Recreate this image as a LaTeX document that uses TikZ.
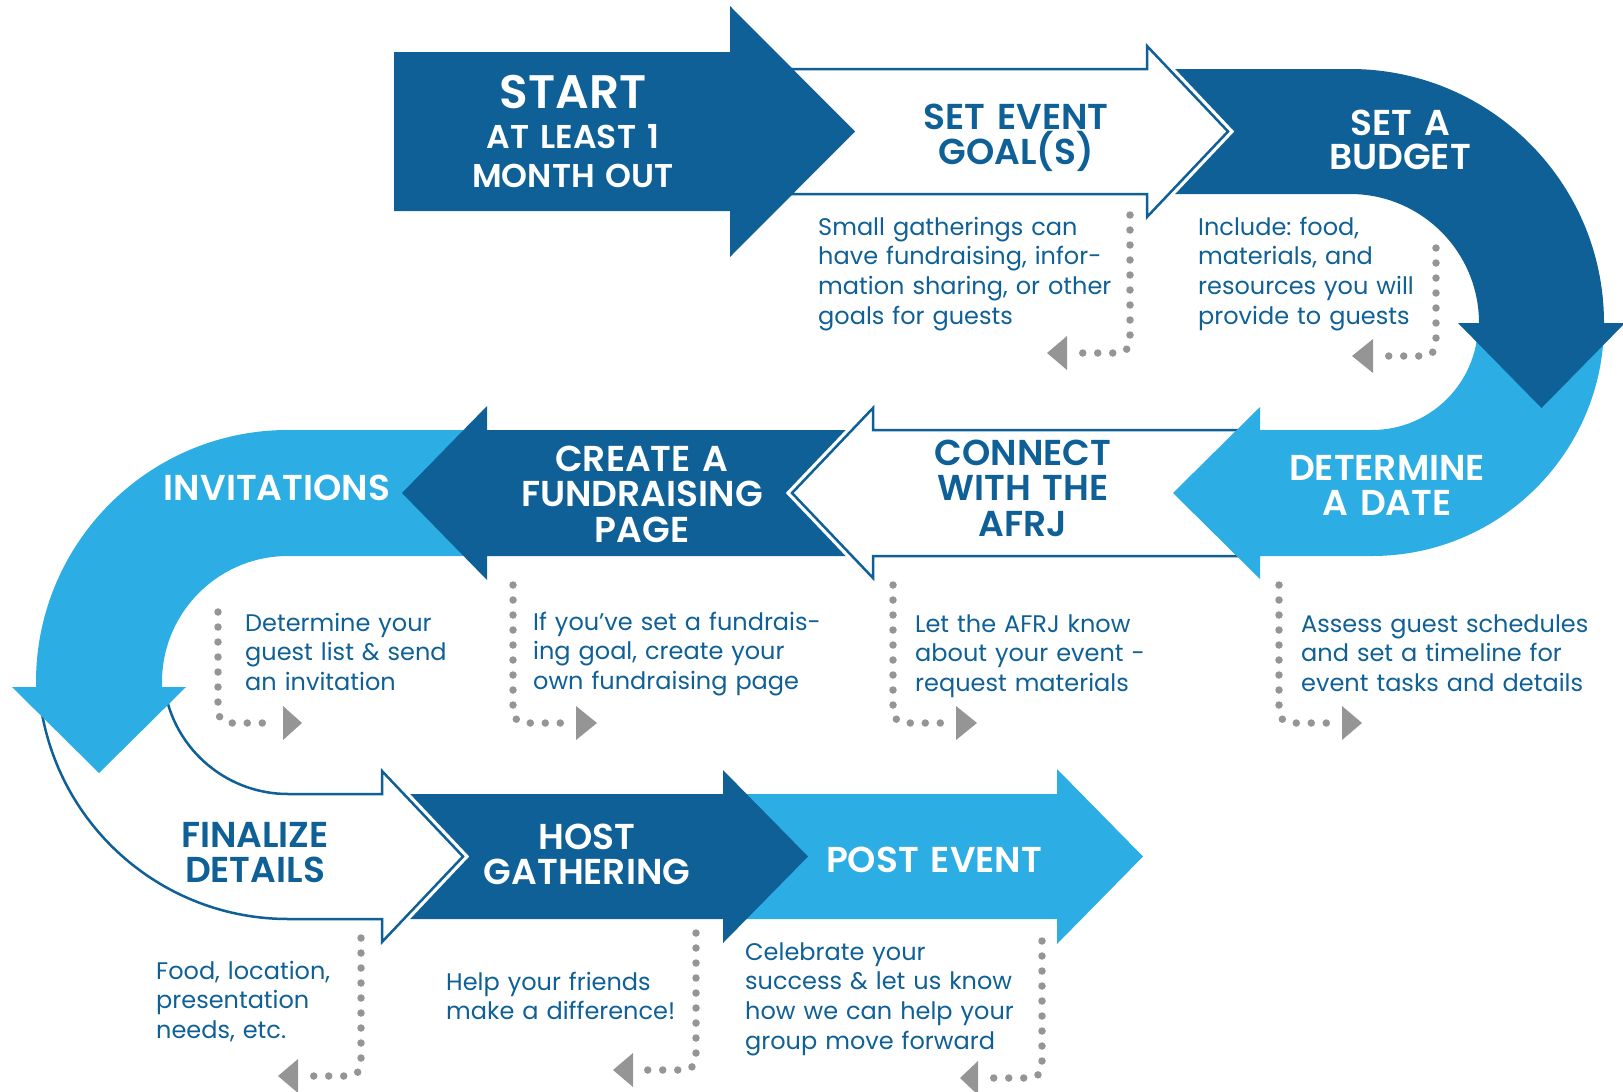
\documentclass[tikz,border=0pt]{standalone}
\usepackage{fontspec}
\setmainfont{Poppins}[BoldFont={Poppins SemiBold}]
\frenchspacing
\definecolor{dblue}{HTML}{0E6096}
\definecolor{lblue}{HTML}{2CADE4}
\definecolor{dotgray}{HTML}{959595}
\tikzset{
  head/.style={font=\bfseries\fontsize{36}{35.5}\selectfont, align=center, text width=400pt, anchor=base, inner sep=0pt},
  note/.style={font=\fontsize{24}{29.8}\selectfont, text=dblue, align=left, text width=400pt, anchor=base west, inner sep=0pt},
  dots/.style={draw=dotgray, line width=7.5pt, line cap=round, dash pattern=on 0pt off 15pt, rounded corners=12pt},
  tri/.style={fill=dotgray},
  outlined/.style={fill=white, draw=dblue, line width=2.5pt, preaction={draw=white, line width=9pt}},
}
\begin{document}
\begin{tikzpicture}[x=1pt,y=-1pt]
\useasboundingbox (0,0) rectangle (1623,1092);

% POST EVENT
\fill[lblue] (735,794) -- (1057,794) -- (1057,769) -- (1143,856.5) -- (1057,944) -- (1057,919) -- (735,919) -- cycle;
% HOST GATHERING
\fill[dblue] (404,794) -- (723,794) -- (723,770) -- (808,856.5) -- (723,943) -- (723,919) -- (404,919) -- (463,856.5) -- cycle;
% FINALIZE DETAILS
\path[outlined] ([shift={(288,669)}]172:250) arc[start angle=172,end angle=90,radius=250] -- (382,919) -- (382,942) -- (463,856.5) -- (382,771) -- (382,794) -- (288,794) arc[start angle=90,end angle=168,radius=125];
% INVITATIONS
\fill[lblue] (475,430) -- (288,430) arc[start angle=270,end angle=180,radius=252] -- (36,687) -- (12,687) -- (99,773) -- (186,687) -- (162,687) -- (162,682) arc[start angle=180,end angle=270,radius=126] -- (475,556) -- cycle;
% CREATE
\fill[dblue] (852,430) -- (487,430) -- (487,406) -- (402,493) -- (487,580) -- (487,556) -- (852,556) -- (792,493) -- cycle;
% CONNECT
\path[outlined] (1250,430) -- (873,430) -- (873,408) -- (792,493) -- (873,578) -- (873,556) -- (1250,556);
% DETERMINE
\fill[lblue] (1604,324) arc[start angle=0,end angle=90,radius=232] -- (1260,556) -- (1260,579) -- (1173,493) -- (1260,407) -- (1260,430) -- (1372,430) arc[start angle=90,end angle=0,radius=106] -- cycle;
% BUDGET
\fill[dblue] (1169,69) -- (1350,69) arc[start angle=270,end angle=360,radius=254] -- (1625,323) -- (1541.5,408) -- (1458,323) -- (1479,323) arc[start angle=0,end angle=-90,radius=129] -- (1169,194) -- (1228,131.5) -- cycle;
% SET EVENT
\path[outlined] (770,69) -- (1147,69) -- (1147,46) -- (1228,131.5) -- (1147,217) -- (1147,194) -- (770,194);
% START
\fill[dblue] (394,52) -- (730,52) -- (730,6) -- (855,131.5) -- (730,257) -- (730,211) -- (394,211) -- cycle;

% headings
\node[head, text=white, font=\bfseries\fontsize{47}{47}\selectfont] (start) at (573,108) {START};
\node[head, text=white, font=\bfseries\fontsize{33}{39}\selectfont] (startsub) at (573,148) {AT LEAST 1\\MONTH OUT};
\node[head, text=dblue] (goal) at (1016,129) {SET EVENT\\GOAL(S)};
\node[head, text=white, font=\bfseries\fontsize{36}{34}\selectfont] (budget) at (1400,135) {SET A\\BUDGET};
\node[head, text=white] (date) at (1387,480) {DETERMINE\\A DATE};
\node[head, text=dblue] (afrj) at (1023,465) {CONNECT\\WITH THE\\AFRJ};
\node[head, text=white] (page) at (642,471) {CREATE A\\FUNDRAISING\\PAGE};
\node[head, text=white] (invite) at (277,500) {INVITATIONS};
\node[head, text=dblue] (final) at (255,847) {FINALIZE\\DETAILS};
\node[head, text=white] (host) at (587,849) {HOST\\GATHERING};
\node[head, text=white] (post) at (934,872) {POST EVENT};

% notes
\node[note] (n1) at (818,235) {Small gatherings can\\have fundraising, infor-\\mation sharing, or other\\goals for guests};
\node[note] (n2) at (1198,235) {Include: food,\\materials, and\\resources you will\\provide to guests};
\node[note] (n3) at (1301,632) {Assess guest schedules\\and set a timeline for\\event tasks and details};
\node[note] (n4) at (915,632) {Let the AFRJ know\\about your event -\\request materials};
\node[note] (n5) at (533,630) {If you’ve set a fundrais-\\ing goal, create your\\own fundraising page};
\node[note] (n6) at (245,631) {Determine your\\guest list \& send\\an invitation};
\node[note] (n7) at (156,979) {Food, location,\\presentation\\needs, etc.};
\node[note] (n8) at (446,990) {Help your friends\\make a difference!};
\node[note] (n9) at (745,960) {Celebrate your\\success \& let us know\\how we can help your\\group move forward};

% dotted pointers
\coordinate (d1a) at (1130,215); \coordinate (d1b) at (1075,353);
\draw[dots] (d1a) |- (d1b);
\fill[tri] (1047,353) -- (1067,336) -- (1067,370) -- cycle;
\coordinate (d2a) at (1436,248); \coordinate (d2b) at (1380,356);
\draw[dots] (d2a) |- (d2b);
\fill[tri] (1352,356) -- (1373,339) -- (1373,373) -- cycle;
\coordinate (d3a) at (1279,585); \coordinate (d3b) at (1333,723);
\draw[dots] (d3a) |- (d3b);
\fill[tri] (1362,723) -- (1342,706) -- (1342,740) -- cycle;
\coordinate (d4a) at (893,585); \coordinate (d4b) at (948,723);
\draw[dots] (d4a) |- (d4b);
\fill[tri] (977,723) -- (956,706) -- (956,740) -- cycle;
\coordinate (d5a) at (513,585); \coordinate (d5b) at (568,723);
\draw[dots] (d5a) |- (d5b);
\fill[tri] (597,723) -- (576,706) -- (576,740) -- cycle;
\coordinate (d6a) at (218,612); \coordinate (d6b) at (276,723);
\draw[dots] (d6a) |- (d6b);
\fill[tri] (302,723) -- (283,706) -- (283,740) -- cycle;
\coordinate (d7a) at (361,938); \coordinate (d7b) at (305,1076);
\draw[dots] (d7a) |- (d7b);
\fill[tri] (278,1076) -- (298,1059) -- (298,1093) -- cycle;
\coordinate (d8a) at (696,933); \coordinate (d8b) at (642,1070);
\draw[dots] (d8a) |- (d8b);
\fill[tri] (613,1070) -- (633,1053) -- (633,1087) -- cycle;
\coordinate (d9a) at (1042,941); \coordinate (d9b) at (987,1078);
\draw[dots] (d9a) |- (d9b);
\fill[tri] (960,1078) -- (978,1061) -- (978,1095) -- cycle;
\end{tikzpicture}
\end{document}
